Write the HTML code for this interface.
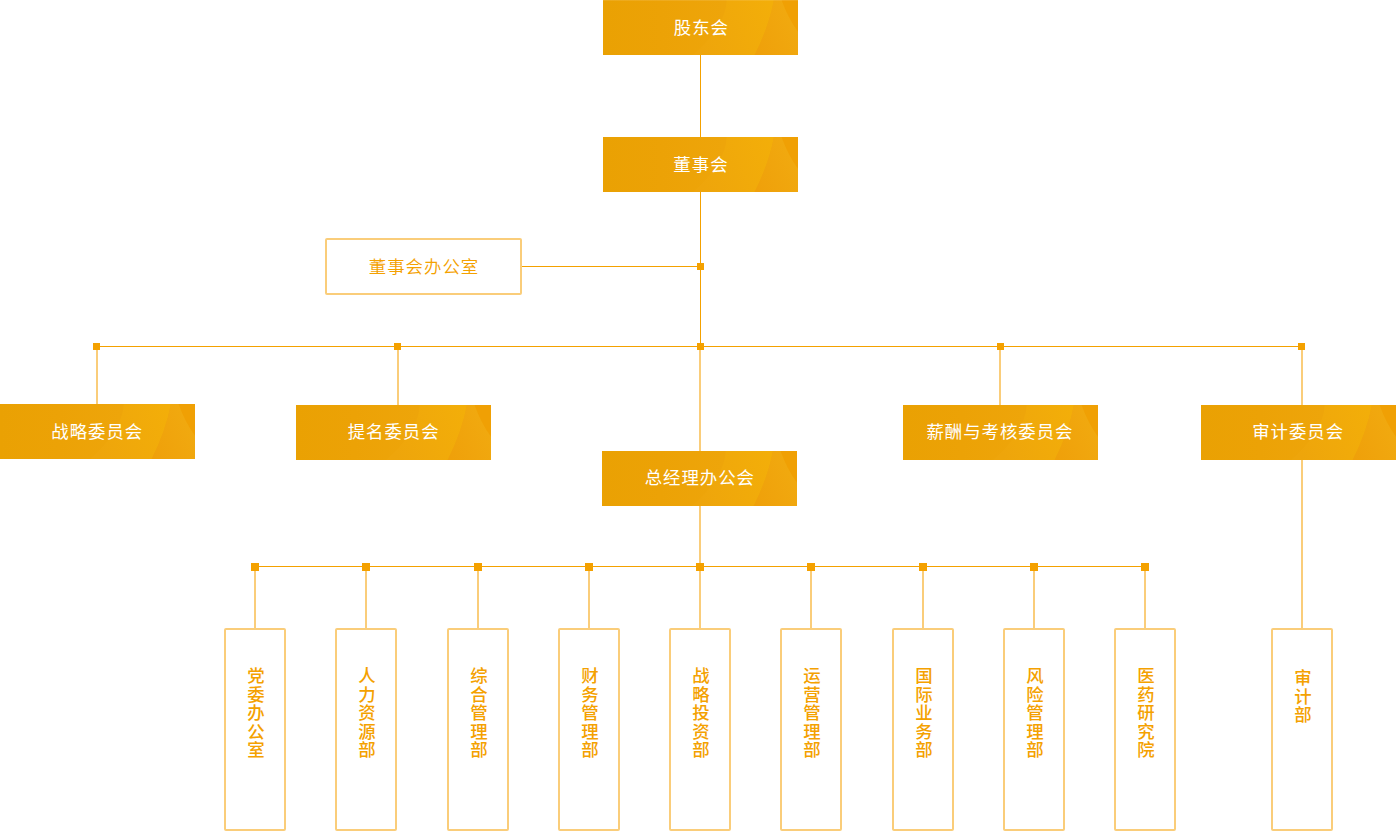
<!DOCTYPE html>
<html lang="zh-CN">
<head>
<meta charset="utf-8">
<title>组织架构</title>
<style>
*{margin:0;padding:0;box-sizing:border-box}
html,body{width:1399px;height:831px;overflow:hidden;background:#fff}
body{position:relative;font-family:"Liberation Sans","Noto Sans CJK SC",sans-serif;font-size:17.4px}
.ln{position:absolute;background:#F4A100}
.ll{position:absolute;background:#FACD7A;width:2px}
.dot{position:absolute;background:#F4A100}
.d7{width:7px;height:7px}
.d8{width:8px;height:8px}
.fb{position:absolute;width:195px;height:55px;color:#fff;text-align:center;line-height:55px;overflow:hidden;
 background:linear-gradient(90deg,#EAA103 0%,#ECA206 30%,#EEA50A 62%,#EEA50A 100%)}
.fb svg{position:absolute;left:0;top:0;width:195px;height:55px}
.fb span{position:relative;font-weight:400;letter-spacing:1px;margin-left:0.5px;padding-top:0}
.ob{position:absolute;left:325px;top:238px;width:197px;height:57px;border:2px solid #FACD7A;color:#F4A100;text-align:center;line-height:53px;padding-top:1px;border-radius:2px;font-weight:350;letter-spacing:1px;text-indent:1px}
.vb{position:absolute;top:628px;width:62px;height:203px;border:2px solid #FACD7A;border-radius:2px;color:#F4A100}
.vb span{position:absolute;left:50%;top:37px;width:1em;margin-left:calc(-0.5em + 1px);line-height:18.5px;word-break:break-all;text-align:center;font-weight:500}
</style>
</head>
<body>

<div class="ln" style="left:700px;top:55px;width:1px;height:82px"></div>
<div class="ln" style="left:700px;top:192px;width:1px;height:154px"></div>
<div class="ln" style="left:522px;top:266px;width:178px;height:1px"></div>
<div class="ln" style="left:97px;top:346px;width:1205px;height:1px"></div>
<div class="ln" style="left:255px;top:566px;width:891px;height:1px"></div>
<div class="ll" style="left:96px;top:350px;height:54px"></div>
<div class="ll" style="left:397px;top:350px;height:55px"></div>
<div class="ll" style="left:699px;top:350px;height:101px"></div>
<div class="ll" style="left:999px;top:350px;height:55px"></div>
<div class="ll" style="left:1301px;top:350px;height:55px"></div>
<div class="ll" style="left:1301px;top:460px;height:168px"></div>
<div class="ll" style="left:699px;top:506px;height:57px"></div>
<div class="ll" style="left:254px;top:571px;height:57px"></div>
<div class="ll" style="left:365px;top:571px;height:57px"></div>
<div class="ll" style="left:477px;top:571px;height:57px"></div>
<div class="ll" style="left:588px;top:571px;height:57px"></div>
<div class="ll" style="left:699px;top:571px;height:57px"></div>
<div class="ll" style="left:810px;top:571px;height:57px"></div>
<div class="ll" style="left:922px;top:571px;height:57px"></div>
<div class="ll" style="left:1033px;top:571px;height:57px"></div>
<div class="ll" style="left:1144px;top:571px;height:57px"></div>
<div class="dot d7" style="left:697px;top:263px"></div>
<div class="dot d7" style="left:93px;top:343px"></div>
<div class="dot d7" style="left:394px;top:343px"></div>
<div class="dot d7" style="left:697px;top:343px"></div>
<div class="dot d7" style="left:997px;top:343px"></div>
<div class="dot d7" style="left:1298px;top:343px"></div>
<div class="dot d8" style="left:251px;top:563px"></div>
<div class="dot d8" style="left:362px;top:563px"></div>
<div class="dot d8" style="left:474px;top:563px"></div>
<div class="dot d8" style="left:585px;top:563px"></div>
<div class="dot d8" style="left:696px;top:563px"></div>
<div class="dot d8" style="left:807px;top:563px"></div>
<div class="dot d8" style="left:919px;top:563px"></div>
<div class="dot d8" style="left:1030px;top:563px"></div>
<div class="dot d8" style="left:1141px;top:563px"></div>
<div class="fb" style="left:603px;top:0px"><svg viewBox="0 0 195 55" preserveAspectRatio="none" aria-hidden="true"><defs><linearGradient id="gA0" gradientUnits="userSpaceOnUse" x1="95" y1="40" x2="170" y2="10"><stop offset="0" stop-color="#EEA50B"/><stop offset="1" stop-color="#F3AE09"/></linearGradient><linearGradient id="gB0" gradientUnits="userSpaceOnUse" x1="152" y1="50" x2="195" y2="30"><stop offset="0" stop-color="#EFA00A"/><stop offset="1" stop-color="#F1A90F"/></linearGradient></defs><path d="M123.7 0 Q122.5 26.5 90 55 L151.6 55 Q166 26.5 170.9 0 Z" fill="url(#gA0)"/><path d="M170.9 0 Q166 26.5 151.6 55 L195 55 L195 0 Z" fill="url(#gB0)"/><path d="M178.6 0 L195 0 L195 31.7 Q185 18 178.6 0 Z" fill="#F0A004"/></svg><i style="position:absolute;left:0;top:0;width:195px;height:1px;background:rgba(255,255,255,.1)"></i><span style="left:0.6px;top:1px">股东会</span></div>
<div class="fb" style="left:603px;top:137px"><svg viewBox="0 0 195 55" preserveAspectRatio="none" aria-hidden="true"><defs><linearGradient id="gA1" gradientUnits="userSpaceOnUse" x1="95" y1="40" x2="170" y2="10"><stop offset="0" stop-color="#EEA50B"/><stop offset="1" stop-color="#F3AE09"/></linearGradient><linearGradient id="gB1" gradientUnits="userSpaceOnUse" x1="152" y1="50" x2="195" y2="30"><stop offset="0" stop-color="#EFA00A"/><stop offset="1" stop-color="#F1A90F"/></linearGradient></defs><path d="M123.7 0 Q122.5 26.5 90 55 L151.6 55 Q166 26.5 170.9 0 Z" fill="url(#gA1)"/><path d="M170.9 0 Q166 26.5 151.6 55 L195 55 L195 0 Z" fill="url(#gB1)"/><path d="M178.6 0 L195 0 L195 31.7 Q185 18 178.6 0 Z" fill="#F0A004"/></svg><span style="left:0.2px;top:1px">董事会</span></div>
<div class="fb" style="left:0px;top:404px"><svg viewBox="0 0 195 55" preserveAspectRatio="none" aria-hidden="true"><defs><linearGradient id="gA2" gradientUnits="userSpaceOnUse" x1="95" y1="40" x2="170" y2="10"><stop offset="0" stop-color="#EEA50B"/><stop offset="1" stop-color="#F3AE09"/></linearGradient><linearGradient id="gB2" gradientUnits="userSpaceOnUse" x1="152" y1="50" x2="195" y2="30"><stop offset="0" stop-color="#EFA00A"/><stop offset="1" stop-color="#F1A90F"/></linearGradient></defs><path d="M123.7 0 Q122.5 26.5 90 55 L151.6 55 Q166 26.5 170.9 0 Z" fill="url(#gA2)"/><path d="M170.9 0 Q166 26.5 151.6 55 L195 55 L195 0 Z" fill="url(#gB2)"/><path d="M178.6 0 L195 0 L195 31.7 Q185 18 178.6 0 Z" fill="#F0A004"/></svg><span style="left:-0.5px;top:1px">战略委员会</span></div>
<div class="fb" style="left:296px;top:405px"><svg viewBox="0 0 195 55" preserveAspectRatio="none" aria-hidden="true"><defs><linearGradient id="gA3" gradientUnits="userSpaceOnUse" x1="95" y1="40" x2="170" y2="10"><stop offset="0" stop-color="#EEA50B"/><stop offset="1" stop-color="#F3AE09"/></linearGradient><linearGradient id="gB3" gradientUnits="userSpaceOnUse" x1="152" y1="50" x2="195" y2="30"><stop offset="0" stop-color="#EFA00A"/><stop offset="1" stop-color="#F1A90F"/></linearGradient></defs><path d="M123.7 0 Q122.5 26.5 90 55 L151.6 55 Q166 26.5 170.9 0 Z" fill="url(#gA3)"/><path d="M170.9 0 Q166 26.5 151.6 55 L195 55 L195 0 Z" fill="url(#gB3)"/><path d="M178.6 0 L195 0 L195 31.7 Q185 18 178.6 0 Z" fill="#F0A004"/></svg><span style="left:-0.15px;top:0px">提名委员会</span></div>
<div class="fb" style="left:903px;top:405px"><svg viewBox="0 0 195 55" preserveAspectRatio="none" aria-hidden="true"><defs><linearGradient id="gA4" gradientUnits="userSpaceOnUse" x1="95" y1="40" x2="170" y2="10"><stop offset="0" stop-color="#EEA50B"/><stop offset="1" stop-color="#F3AE09"/></linearGradient><linearGradient id="gB4" gradientUnits="userSpaceOnUse" x1="152" y1="50" x2="195" y2="30"><stop offset="0" stop-color="#EFA00A"/><stop offset="1" stop-color="#F1A90F"/></linearGradient></defs><path d="M123.7 0 Q122.5 26.5 90 55 L151.6 55 Q166 26.5 170.9 0 Z" fill="url(#gA4)"/><path d="M170.9 0 Q166 26.5 151.6 55 L195 55 L195 0 Z" fill="url(#gB4)"/><path d="M178.6 0 L195 0 L195 31.7 Q185 18 178.6 0 Z" fill="#F0A004"/></svg><span style="left:-0.8px;top:0px">薪酬与考核委员会</span></div>
<div class="fb" style="left:1201px;top:405px"><svg viewBox="0 0 195 55" preserveAspectRatio="none" aria-hidden="true"><defs><linearGradient id="gA5" gradientUnits="userSpaceOnUse" x1="95" y1="40" x2="170" y2="10"><stop offset="0" stop-color="#EEA50B"/><stop offset="1" stop-color="#F3AE09"/></linearGradient><linearGradient id="gB5" gradientUnits="userSpaceOnUse" x1="152" y1="50" x2="195" y2="30"><stop offset="0" stop-color="#EFA00A"/><stop offset="1" stop-color="#F1A90F"/></linearGradient></defs><path d="M123.7 0 Q122.5 26.5 90 55 L151.6 55 Q166 26.5 170.9 0 Z" fill="url(#gA5)"/><path d="M170.9 0 Q166 26.5 151.6 55 L195 55 L195 0 Z" fill="url(#gB5)"/><path d="M178.6 0 L195 0 L195 31.7 Q185 18 178.6 0 Z" fill="#F0A004"/></svg><span style="left:-0.65px;top:0px">审计委员会</span></div>
<div class="fb" style="left:602px;top:451px"><svg viewBox="0 0 195 55" preserveAspectRatio="none" aria-hidden="true"><defs><linearGradient id="gA6" gradientUnits="userSpaceOnUse" x1="95" y1="40" x2="170" y2="10"><stop offset="0" stop-color="#EEA50B"/><stop offset="1" stop-color="#F3AE09"/></linearGradient><linearGradient id="gB6" gradientUnits="userSpaceOnUse" x1="152" y1="50" x2="195" y2="30"><stop offset="0" stop-color="#EFA00A"/><stop offset="1" stop-color="#F1A90F"/></linearGradient></defs><path d="M123.7 0 Q122.5 26.5 90 55 L151.6 55 Q166 26.5 170.9 0 Z" fill="url(#gA6)"/><path d="M170.9 0 Q166 26.5 151.6 55 L195 55 L195 0 Z" fill="url(#gB6)"/><path d="M178.6 0 L195 0 L195 31.7 Q185 18 178.6 0 Z" fill="#F0A004"/></svg><span style="left:0.1px;top:0px">总经理办公会</span></div>
<div class="ob">董事会办公室</div>
<div class="vb" style="left:224px"><span>党委办公室</span></div>
<div class="vb" style="left:335px"><span>人力资源部</span></div>
<div class="vb" style="left:447px"><span>综合管理部</span></div>
<div class="vb" style="left:558px"><span>财务管理部</span></div>
<div class="vb" style="left:669px"><span>战略投资部</span></div>
<div class="vb" style="left:780px"><span>运营管理部</span></div>
<div class="vb" style="left:892px"><span>国际业务部</span></div>
<div class="vb" style="left:1003px"><span>风险管理部</span></div>
<div class="vb" style="left:1114px"><span>医药研究院</span></div>
<div class="vb" style="left:1271px"><span style="top:39px">审计部</span></div>
</body>
</html>
